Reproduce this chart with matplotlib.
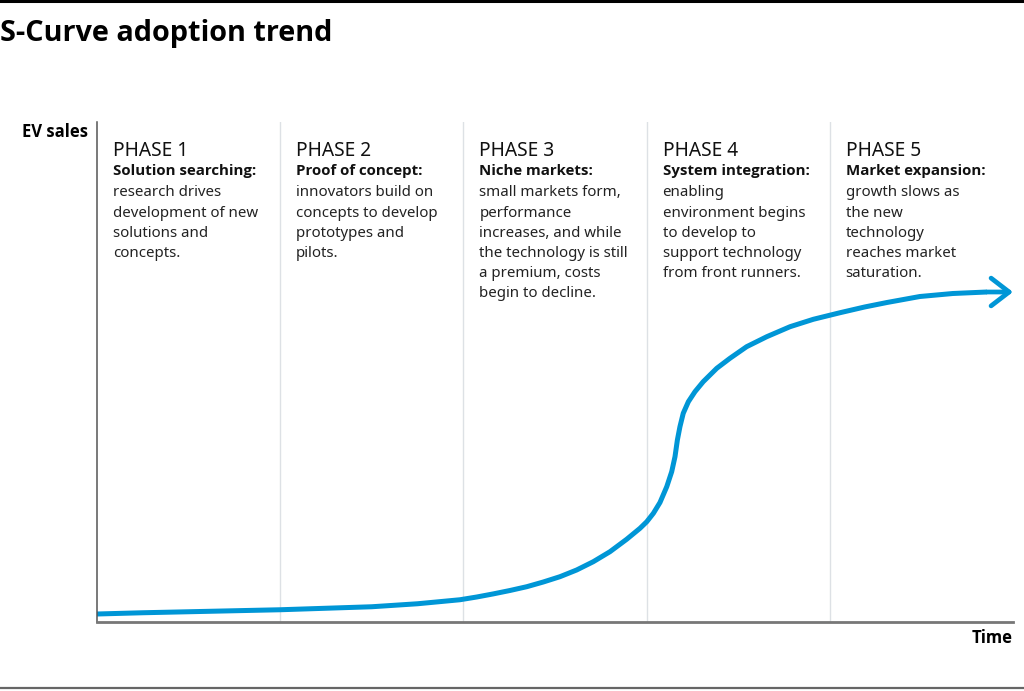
import matplotlib
matplotlib.use("Agg")
import matplotlib.pyplot as plt
from matplotlib.lines import Line2D

# ---- data (time in phase units 0-5, sales index 0-100) ----
time_pts = [0.0, 0.25, 0.5, 1.0, 1.5, 1.75, 1.981, 2.073, 2.163, 2.254, 2.346, 2.436, 2.527,
            2.618, 2.709, 2.800, 2.891, 2.964, 3.001, 3.037, 3.073, 3.110, 3.137, 3.155,
            3.168, 3.182, 3.200, 3.228, 3.264, 3.309, 3.383, 3.455, 3.546, 3.656, 3.783,
            3.910, 4.056, 4.190, 4.312, 4.492, 4.672, 4.858, 5.0]
sales_pts = [1.6, 1.85, 2.05, 2.45, 3.05, 3.65, 4.45, 5.0, 5.62, 6.3, 7.06, 8.0, 9.06,
             10.4, 12.06, 14.06, 16.54, 18.74, 20.06, 21.74, 23.9, 27.06, 30.06, 33.06,
             36.4, 39.06, 41.74, 44.06, 46.06, 48.06, 50.74, 52.74, 55.06, 57.06, 59.06,
             60.54, 61.86, 63.0, 63.9, 65.1, 65.7, 66.0, 66.0]

phase_titles = ["PHASE 1", "PHASE 2", "PHASE 3", "PHASE 4", "PHASE 5"]
phase_heads = ["Solution searching:", "Proof of concept:", "Niche markets:",
               "System integration:", "Market expansion:"]
phase_bodies = [
    "research drives\ndevelopment of new\nsolutions and\nconcepts.",
    "innovators build on\nconcepts to develop\nprototypes and\npilots.",
    "small markets form,\nperformance\nincreases, and while\nthe technology is still\na premium, costs\nbegin to decline.",
    "enabling\nenvironment begins\nto develop to\nsupport technology\nfrom front runners.",
    "growth slows as\nthe new\ntechnology\nreaches market\nsaturation.",
]
title = "S-Curve adoption trend"
y_label = "EV sales"
x_label = "Time"

BLUE = "#0096D6"
FONT = ["Noto Sans", "DejaVu Sans"]
BOLD = ["Open Sans", "DejaVu Sans"]

W, H = 1024, 691
fig = plt.figure(figsize=(W / 100, H / 100), dpi=100)
fig.patch.set_facecolor("white")

def fx(px):
    return px / W

def fy(py):
    return 1 - py / H

# top and bottom rules
fig.add_artist(Line2D([0, 1], [fy(1), fy(1)], color="black", lw=2.2, transform=fig.transFigure))
fig.add_artist(Line2D([0, 1], [fy(688), fy(688)], color="#666666", lw=1.6, transform=fig.transFigure))

fig.text(fx(0), fy(34), title, fontsize=20.8, fontweight="bold", family=BOLD,
         ha="left", va="center", color="black")

ax = fig.add_axes([fx(97), fy(622), fx(1013) - fx(97), fy(122) - fy(622)])
ax.set_xlim(0, 5)
ax.set_ylim(0, 100)
for s in ["top", "right"]:
    ax.spines[s].set_visible(False)
ax.spines["left"].set_color("#555555")
ax.spines["bottom"].set_color("#777777")
ax.spines["left"].set_linewidth(1.1)
ax.spines["bottom"].set_linewidth(2.0)
ax.set_xticks([])
ax.set_yticks([])

for i in range(1, 5):
    ax.axvline(i, color="#dde1e5", lw=1.0, zorder=0)

ax.plot(time_pts[:-1], sales_pts[:-1], color=BLUE, lw=3.6, solid_capstyle="butt",
        solid_joinstyle="round")
ax.annotate("", xy=(time_pts[-1], sales_pts[-1]), xytext=(time_pts[-2], sales_pts[-2]),
            arrowprops=dict(arrowstyle="->,head_length=1.3,head_width=1.0",
                            color=BLUE, lw=3.4, shrinkA=0, shrinkB=0))

for i in range(5):
    x0 = 0.087 + i
    ax.text(x0, 94.1, phase_titles[i], fontsize=13.8, family=FONT, ha="left", va="center",
            color="#111111")
    ax.text(x0, 90.2, phase_heads[i], fontsize=10.8, family=BOLD, fontweight="bold",
            ha="left", va="center", color="#111111")
    ax.text(x0, 87.3, phase_bodies[i], fontsize=10.8, family=FONT, ha="left", va="top",
            color="#222222", linespacing=1.47)

fig.text(fx(88), fy(132), y_label, fontsize=12, fontweight="bold", family=BOLD,
         ha="right", va="center", color="black")
fig.text(fx(1013), fy(638), x_label, fontsize=12, fontweight="bold", family=BOLD,
         ha="right", va="center", color="black")

fig.savefig("out.png", dpi=100, facecolor="white")
